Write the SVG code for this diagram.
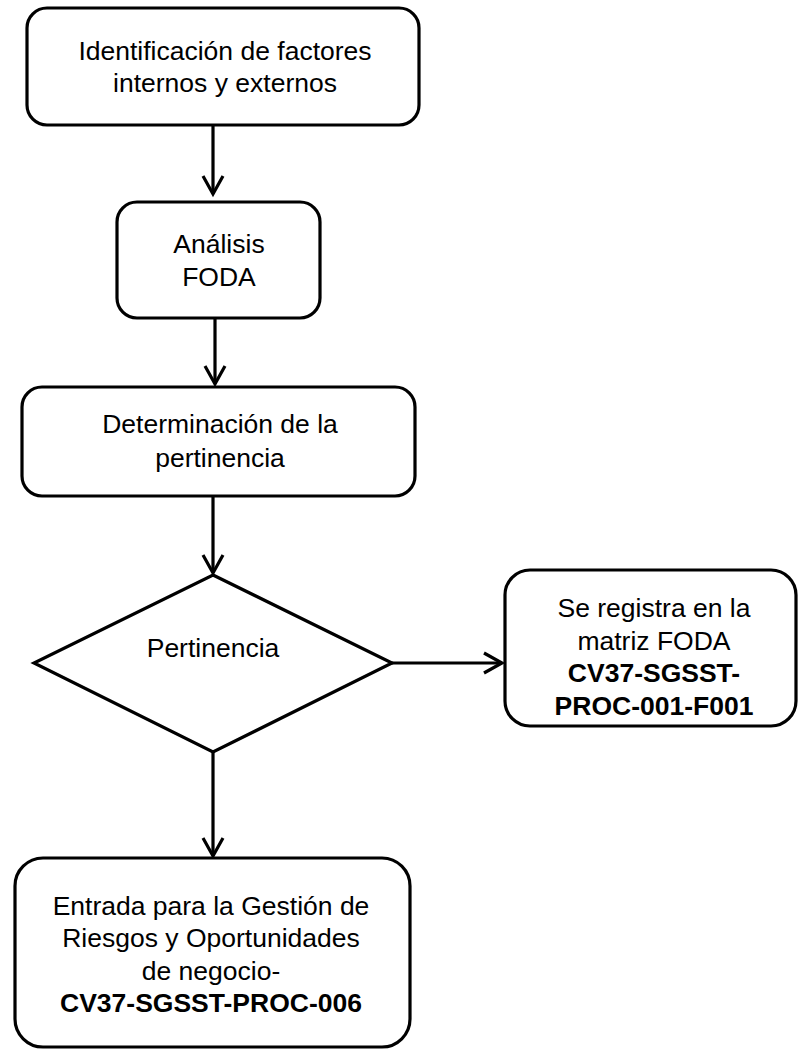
<svg xmlns="http://www.w3.org/2000/svg" width="798" height="1050" viewBox="0 0 798 1050">
<style>
.box{fill:#fff;stroke:#000;stroke-width:3.2}
.t{font-family:"Liberation Sans",Arial,sans-serif;font-size:26.5px;fill:#000;text-anchor:middle}
.b{font-weight:bold}
.c{fill:none;stroke:#000;stroke-width:3.2}
</style>
<defs>
<marker id="ah" markerUnits="userSpaceOnUse" viewBox="-22 -14 26 28" markerWidth="26" markerHeight="28" refX="0" refY="0" orient="auto" overflow="visible">
<path d="M-18,-10 L0,0 L-18,10" fill="none" stroke="#000" stroke-width="3.2"/>
</marker>
</defs>
<rect width="798" height="1050" fill="#fff"/>
<g id="connectors">
<line class="c" x1="213" y1="125" x2="213" y2="194" marker-end="url(#ah)"/>
<line class="c" x1="215" y1="318" x2="215" y2="384" marker-end="url(#ah)"/>
<line class="c" x1="213" y1="496" x2="213" y2="573" marker-end="url(#ah)"/>
<line class="c" x1="392" y1="663" x2="502" y2="663" marker-end="url(#ah)"/>
<line class="c" x1="213" y1="752" x2="213" y2="856" marker-end="url(#ah)"/>
</g>
<g id="n1">
<rect class="box" x="27" y="8" width="392" height="117" rx="20"/>
<text class="t" x="225" y="60">Identificación de factores</text>
<text class="t" x="225" y="92">internos y externos</text>
</g>
<g id="n2">
<rect class="box" x="117" y="202" width="203" height="116" rx="20"/>
<text class="t" x="219" y="253">Análisis</text>
<text class="t" x="219" y="286">FODA</text>
</g>
<g id="n3">
<rect class="box" x="22" y="387" width="393" height="109" rx="20"/>
<text class="t" x="220" y="433">Determinación de la</text>
<text class="t" x="220" y="467">pertinencia</text>
</g>
<g id="n4">
<polygon class="box" points="213,575 392,663 213,752 34,663"/>
<text class="t" x="213" y="657">Pertinencia</text>
</g>
<g id="n5">
<rect class="box" x="505" y="570" width="291" height="156" rx="25"/>
<text class="t" x="654" y="617">Se registra en la</text>
<text class="t" x="654" y="650">matriz FODA</text>
<text class="t b" x="654" y="682">CV37-SGSST-</text>
<text class="t b" x="654" y="715">PROC-001-F001</text>
</g>
<g id="n6">
<rect class="box" x="15" y="858" width="395" height="189" rx="28"/>
<text class="t" x="211" y="915">Entrada para la Gestión de</text>
<text class="t" x="211" y="947">Riesgos y Oportunidades</text>
<text class="t" x="211" y="980">de negocio-</text>
<text class="t b" x="211" y="1012">CV37-SGSST-PROC-006</text>
</g>
</svg>
